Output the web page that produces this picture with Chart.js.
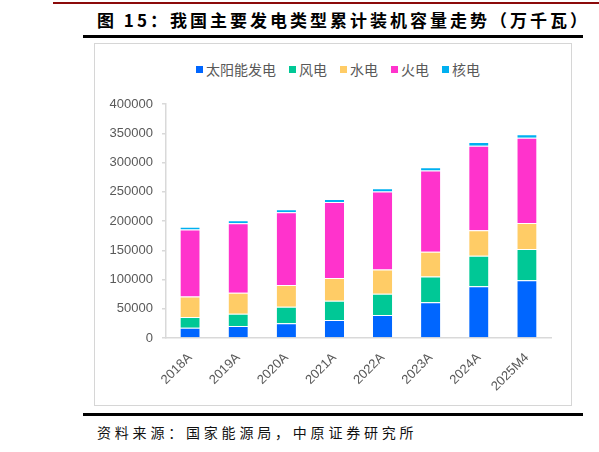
<!DOCTYPE html>
<html>
<head>
<meta charset="utf-8">
<script src="https://cdn.jsdelivr.net/npm/chart.js@4/dist/chart.umd.min.js"></script>
<style>
  body { margin: 0; width: 599px; height: 452px; position: relative; background: #fff; overflow: hidden; }
  .abs { position: absolute; }
  #title { left: 97px; top: 9px; font: 700 17px "Noto Sans CJK SC", sans-serif; line-height: 22px; letter-spacing: 3px; color: #000; white-space: nowrap; }
  #box { left: 94px; top: 43px; width: 478px; height: 363px; box-sizing: border-box; border: 1.5px solid #d6d6d6; }
  #legend { left: 196px; top: 59px; height: 20px; display: flex; align-items: center; font: 14px "Noto Sans CJK SC", sans-serif; color: #595959; white-space: nowrap; }
  #legend .item { display: flex; align-items: center; margin-right: 13px; }
  #legend .mark { width: 7px; height: 7px; margin-right: 3px; }
  #source { left: 97px; top: 421px; font: 14px "Noto Sans CJK SC", sans-serif; line-height: 22px; letter-spacing: 3.8px; color: #111; white-space: nowrap; }
  #wrap { left: 94px; top: 43px; width: 478px; height: 363px; }
</style>
</head>
<body>
<div class="abs" style="left:53px;top:2px;width:546px;height:2px;background:#8b0a0a"></div>
<div class="abs" id="title">图 15：我国主要发电类型累计装机容量走势（万千瓦）</div>
<div class="abs" style="left:83px;top:35px;width:500px;height:2.5px;background:#000"></div>
<div class="abs" id="box"></div>
<div class="abs" id="legend"></div>
<div class="abs" id="wrap"><canvas id="chart" width="478" height="363"></canvas></div>
<div class="abs" style="left:83px;top:413px;width:500px;height:2.5px;background:#000"></div>
<div class="abs" id="source">资料来源：国家能源局，中原证券研究所</div>

<script>
// 装机容量，单位：万千瓦
const categories = ['2018A', '2019A', '2020A', '2021A', '2022A', '2023A', '2024A', '2025M4'];
const seriesNames = ['太阳能发电', '风电', '水电', '火电', '核电'];
const solar = [17446, 20468, 25343, 30656, 39261, 60949, 88666, 98800];
const wind = [18426, 21005, 28153, 32848, 36544, 44134, 52068, 53400];
const hydro = [35226, 35804, 37016, 39092, 41350, 42154, 43595, 44200];
const thermal = [114408, 119055, 124517, 129678, 133239, 139032, 144445, 146000];
const nuclear = [4466, 4874, 4989, 5326, 5553, 5691, 6083, 6100];
const yMax = 400000;
const yStep = 50000;

const colors = ['#0066ff', '#00c896', '#ffcc66', '#ff33cc', '#00b0f0'];
const values = [solar, wind, hydro, thermal, nuclear];

// legend as plain html
const legend = document.getElementById('legend');
seriesNames.forEach((name, i) => {
  const item = document.createElement('div');
  item.className = 'item';
  item.innerHTML = `<span class="mark" style="background:${colors[i]}"></span><span>${name}</span>`;
  legend.appendChild(item);
});

Chart.defaults.font.family = '"Liberation Sans", Arial, sans-serif';
Chart.defaults.color = '#595959';

new Chart(document.getElementById('chart'), {
  type: 'bar',
  data: {
    labels: categories,
    datasets: values.map((data, i) => ({
      label: seriesNames[i],
      data,
      backgroundColor: colors[i],
      borderColor: 'rgba(255,255,255,0.35)',
      borderWidth: { top: 1 },
      borderSkipped: false,
      categoryPercentage: 1,
      barPercentage: 0.4
    }))
  },
  options: {
    responsive: false,
    animation: false,
    layout: { padding: { top: 61, right: 21, left: 0, bottom: 0 } },
    plugins: {
      legend: { display: false },
      tooltip: { enabled: false }
    },
    scales: {
      x: {
        stacked: true,
        grid: { display: false },
        border: { color: '#d9d9d9', width: 1.5 },
        ticks: { font: { size: 13 }, maxRotation: 45, minRotation: 45, autoSkip: false, padding: 4 },
        afterFit: scale => { scale.height = 68; }
      },
      y: {
        stacked: true,
        min: 0,
        max: yMax,
        grid: { drawOnChartArea: false, drawTicks: true, tickLength: 4, color: '#d9d9d9', lineWidth: 1.5 },
        border: { color: '#d9d9d9', width: 1.5 },
        ticks: { stepSize: yStep, font: { size: 13 }, padding: 9, callback: v => String(v) },
        afterFit: scale => { scale.width = 72; }
      }
    }
  }
});
</script>
</body>
</html>
